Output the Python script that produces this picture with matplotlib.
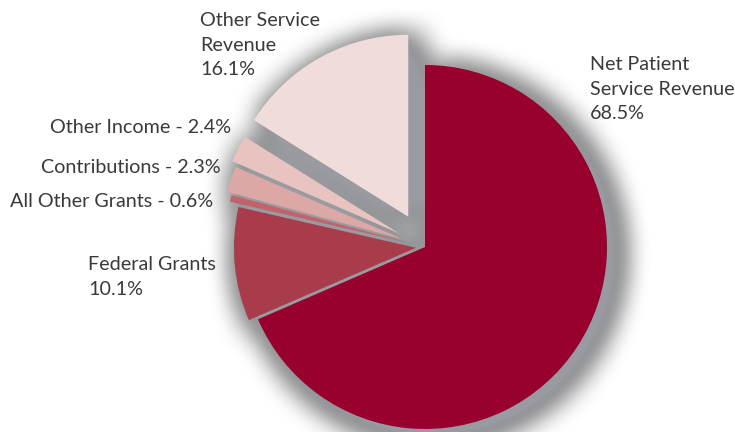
import matplotlib
matplotlib.use("Agg")
import matplotlib.pyplot as plt
from matplotlib.artist import Artist
import numpy as np

# data, clockwise from 12 o'clock
labels = ["Net Patient\nService Revenue\n68.5%", "Federal Grants\n10.1%",
          "All Other Grants - 0.6%", "Contributions - 2.3%",
          "Other Income - 2.4%", "Other Service\nRevenue\n16.1%"]
shares = [68.5, 10.1, 0.6, 2.3, 2.4, 16.1]
colors = ["#98002e", "#a83c4a", "#c0636a", "#dba8a6", "#e8c3c0", "#f0dddb"]
explode = [0.0, 0.05, 0.10, 0.13, 0.16, 0.19]

W, H = 735, 432
cx, cy, R = 425, 432 - 247, 182


def smooth1d(x, n):
    s = np.r_[np.zeros(n), x, np.zeros(n)]
    w = np.hanning(n)
    y = np.convolve(w / w.sum(), s, mode="same")
    return y[n:-n]


def smooth2d(a, sigma):
    n = max(int(sigma), 3) * 2 + 1
    a = np.apply_along_axis(smooth1d, 0, a, n)
    a = np.apply_along_axis(smooth1d, 1, a, n)
    return a


class DropShadow:
    def __init__(self, sigma, offsets, alpha, color):
        self.sigma = sigma
        self.offsets = offsets
        self.alpha = alpha
        self.color = color

    def __call__(self, im, dpi):
        pad = int(self.sigma * 2 + max(self.offsets))
        src = np.pad(im, [(pad, pad), (pad, pad), (0, 0)], "constant")
        tgt = np.zeros_like(src)
        a = smooth2d(src[:, :, 3], self.sigma)
        a = np.roll(a, int(self.offsets[0]), axis=1)
        a = np.roll(a, int(self.offsets[1]), axis=0)
        a = np.clip(a * self.alpha, 0, 1)
        tgt[:, :, 3] = a
        # keep colour premultiplied by alpha
        for i in range(3):
            tgt[:, :, i] = self.color[i] * a
        return tgt, -pad, -pad


class FilteredArtistList(Artist):
    def __init__(self, artist_list, filt):
        super().__init__()
        self._artist_list = artist_list
        self._filter = filt

    def draw(self, renderer):
        renderer.start_rasterizing()
        renderer.start_filter()
        for a in self._artist_list:
            a.draw(renderer)
        renderer.stop_filter(self._filter)
        renderer.stop_rasterizing()


fig = plt.figure(figsize=(W / 100, H / 100), dpi=100)
ax = fig.add_axes([0, 0, 1, 1])

# explode is taken in data units by pie, so scale by the radius
wedges, _ = ax.pie(shares, colors=colors, explode=[e * R for e in explode],
                   startangle=90, counterclock=False, radius=R,
                   center=(cx, cy), wedgeprops=dict(linewidth=0))
for w in wedges:
    w.set_zorder(3)

shadow = FilteredArtistList(wedges, DropShadow(42, (8, 7), 1.8,
                                               (0.60, 0.61, 0.63)))
shadow.set_zorder(2)
ax.add_artist(shadow)

ax.set_xlim(0, W)
ax.set_ylim(0, H)
ax.set_aspect("equal")
ax.axis("off")

# label positions (pixels, top-left / top-right)
lab_pos = [(590, 56, "left"), (88, 256, "left"), (213, 193, "right"),
           (221, 159, "right"), (231, 119, "right"), (200, 12, "left")]
for lab, (x, y, ha) in zip(labels, lab_pos):
    fig.text(x / W, 1 - y / H, lab, ha=ha, va="top", fontsize=14.2,
             family="Lato", color="#3a3a3a", linespacing=1.55)

fig.savefig("out.png", dpi=100)
